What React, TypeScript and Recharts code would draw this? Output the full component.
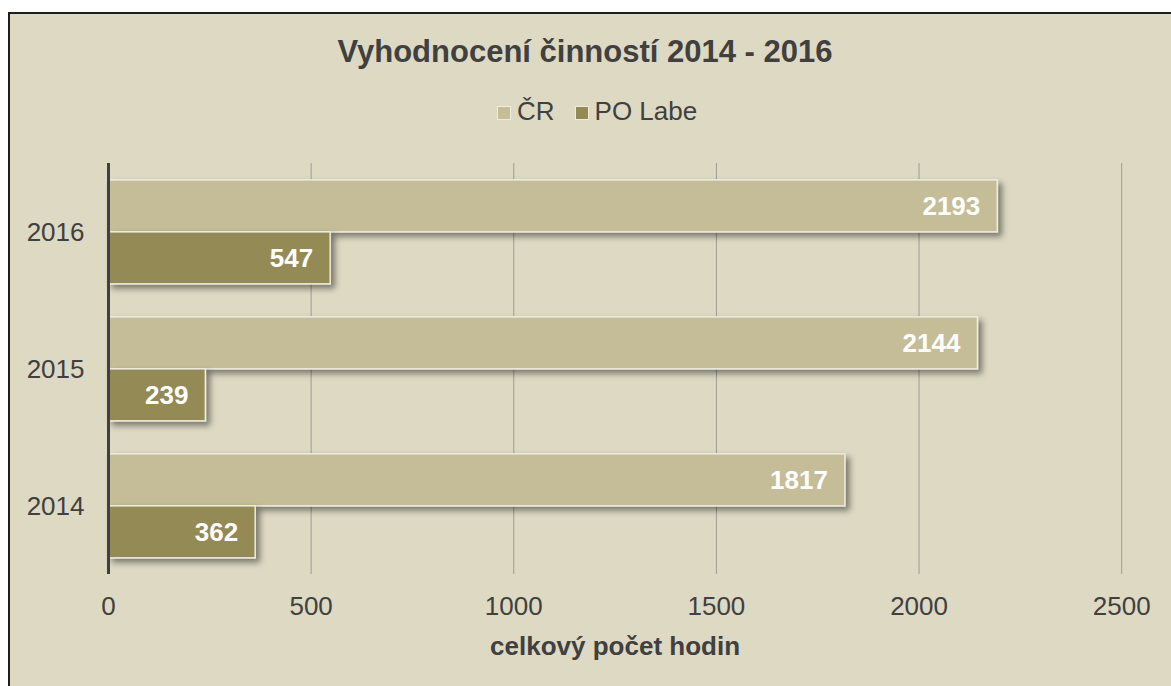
import React from 'react';
import { BarChart, Bar, XAxis, YAxis, CartesianGrid, LabelList } from 'recharts';

const years = ['2016', '2015', '2014'];
const crValues = [2193, 2144, 1817];
const poLabeValues = [547, 239, 362];
const xTicks = [0, 500, 1000, 1500, 2000, 2500];

const seriesNames = { cr: 'ČR', po: 'PO Labe' };
const colors = { cr: '#C4BD97', po: '#948A54', bg: '#DDD9C3', text: '#404040' };

const data = years.map((y, i) => ({ year: y, cr: crValues[i], po: poLabeValues[i] }));

const FONT = '"Liberation Sans", Arial, sans-serif';

const ShadowRect = (props: any) => {
  const { x, y, width, height, fill } = props;
  if (width == null || height == null) return null;
  return (
    <rect
      x={x}
      y={y}
      width={width}
      height={height}
      fill={fill}
      stroke="#EEEBDF"
      strokeWidth={1.5}
      filter="url(#barShadow)"
    />
  );
};

const AxisTitle = (props: any) => {
  const vb = props.viewBox || {};
  return (
    <text
      x={vb.x + vb.width / 2}
      y={vb.y + 81}
      textAnchor="middle"
      fill={colors.text}
      fontSize={26}
      fontWeight="bold"
      fontFamily={FONT}
    >
      celkový počet hodin
    </text>
  );
};

export default function App() {
  return (
    <div
      style={{
        position: 'fixed',
        left: 8,
        top: 12,
        width: 1163,
        height: 674,
        boxSizing: 'border-box',
        borderTop: '2px solid #1E1E1E',
        borderLeft: '2px solid #1E1E1E',
        background: colors.bg,
        overflow: 'hidden',
        fontFamily: FONT,
      }}
    >
      <svg width={0} height={0} style={{ position: 'absolute' }}>
        <defs>
          <filter id="barShadow" x="-10%" y="-40%" width="130%" height="190%">
            <feDropShadow dx={4} dy={4} stdDeviation={3} floodColor="#000" floodOpacity={0.45} />
          </filter>
        </defs>
      </svg>
      <div
        style={{
          position: 'absolute',
          left: 0,
          top: 23,
          width: 1150,
          textAlign: 'center',
          fontSize: 31,
          lineHeight: '30px',
          fontWeight: 'bold',
          color: colors.text,
          whiteSpace: 'nowrap',
        }}
      >
        Vyhodnocení činností 2014 - 2016
      </div>
      <div
        style={{
          position: 'absolute',
          left: 487,
          top: 84,
          height: 26,
          display: 'flex',
          alignItems: 'center',
          fontSize: 26,
          lineHeight: '26px',
          color: colors.text,
          whiteSpace: 'nowrap',
        }}
      >
        <span
          style={{
            display: 'inline-block',
            width: 12,
            height: 12,
            background: colors.cr,
            border: '1.5px solid #EEEBDF',
            marginTop: 3,
          }}
        />
        <span style={{ marginLeft: 6 }}>{seriesNames.cr}</span>
        <span
          style={{
            display: 'inline-block',
            width: 12,
            height: 12,
            background: colors.po,
            border: '1.5px solid #EEEBDF',
            marginLeft: 20,
            marginTop: 3,
          }}
        />
        <span style={{ marginLeft: 6 }}>{seriesNames.po}</span>
      </div>
      <div style={{ position: 'absolute', left: 0, top: 0 }}>
        <BarChart
          width={1161}
          height={672}
          data={data}
          layout="vertical"
          margin={{ top: 149, right: 49.3, left: 0, bottom: 20 }}
          barCategoryGap="12.3%"
          barGap={0}
        >
          <CartesianGrid horizontal={false} vertical={true} stroke="#9E9C94" strokeWidth={1} />
          <XAxis
            type="number"
            domain={[0, 2500]}
            ticks={xTicks}
            height={92}
            axisLine={false}
            tickLine={false}
            tickSize={0}
            tickMargin={23}
            tick={{ fill: colors.text, fontSize: 26, fontFamily: FONT }}
            label={<AxisTitle />}
          />
          <YAxis
            type="category"
            dataKey="year"
            width={98.5}
            axisLine={{ stroke: '#404040', strokeWidth: 3 }}
            tickLine={false}
            tickSize={0}
            tickMargin={24}
            tick={{ fill: colors.text, fontSize: 26, fontFamily: FONT }}
          />
          <Bar dataKey="cr" name={seriesNames.cr} fill={colors.cr} isAnimationActive={false} shape={<ShadowRect />}>
            <LabelList
              dataKey="cr"
              position="insideRight"
              offset={17}
              fill="#FFFFFF"
              fontSize={26}
              fontWeight="bold"
              fontFamily={FONT}
            />
          </Bar>
          <Bar dataKey="po" name={seriesNames.po} fill={colors.po} isAnimationActive={false} shape={<ShadowRect />}>
            <LabelList
              dataKey="po"
              position="insideRight"
              offset={17}
              fill="#FFFFFF"
              fontSize={26}
              fontWeight="bold"
              fontFamily={FONT}
            />
          </Bar>
        </BarChart>
      </div>
    </div>
  );
}
